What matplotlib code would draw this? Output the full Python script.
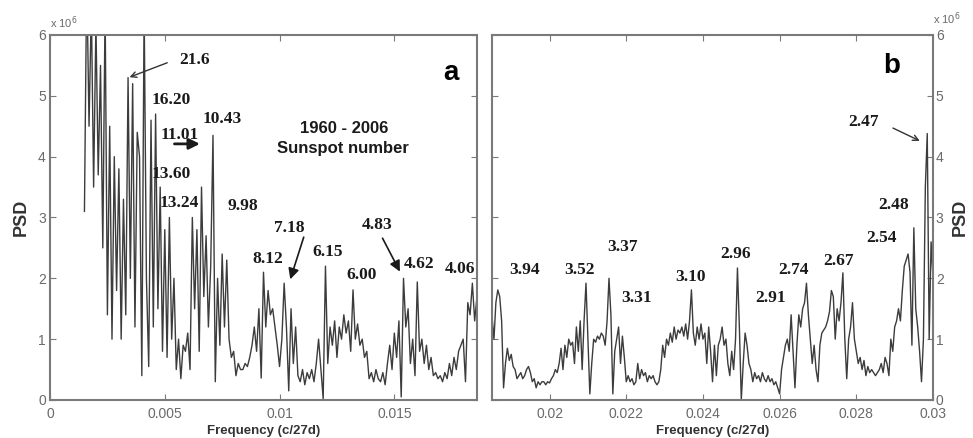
import numpy as np
import matplotlib
matplotlib.use("Agg")
import matplotlib.pyplot as plt

# PSD (x 10^6), uniform frequency grids (c/27d)
f0_a = 0.0015
df_a = 0.0001
psd_a = [3.1, 7.0, 4.5, 6.5, 3.5, 6.2, 3.7, 5.5, 2.5, 6.5,
         1.4, 4.5, 1.0, 4.0, 1.8, 3.8, 1.0, 3.3, 1.4, 5.3,
         2.0, 5.2, 1.2, 4.4, 4.0, 0.4, 6.5, 2.0, 0.55, 4.6,
         1.2, 4.7, 1.5, 3.5, 0.8, 2.8, 0.7, 3.0, 1.0, 2.0,
         0.5, 1.0, 0.35, 0.9, 0.8, 1.1, 0.5, 3.0, 1.5, 2.8,
         0.8, 3.5, 1.7, 2.7, 1.2, 2.2, 4.35, 0.3, 2.0, 0.9,
         2.4, 1.2, 2.3, 1.0, 0.7, 0.8, 0.4, 0.6, 0.5, 0.5,
         0.6, 0.55, 0.7, 0.9, 1.2, 0.8, 1.5, 0.36, 2.1, 1.2,
         1.8, 1.4, 1.5, 1.2, 0.9, 0.55, 1.0, 1.92, 1.2, 0.15,
         1.5, 0.6, 1.2, 0.4, 0.3, 0.5, 0.25, 0.45, 0.35, 0.5,
         0.3, 0.6, 1.0, 0.5, 0.02, 2.2, 0.6, 1.2, 0.9, 1.3,
         0.7, 1.2, 1.0, 1.4, 1.1, 1.3, 0.8, 1.81, 1.0, 1.25,
         0.9, 1.0, 0.7, 0.8, 0.35, 0.45, 0.3, 0.5, 0.35, 0.3,
         0.45, 0.25, 0.6, 0.9, 0.5, 1.1, 0.7, 1.3, 0.05, 2.0,
         1.2, 1.5, 0.6, 1.0, 0.4, 1.94, 0.8, 1.0, 0.6, 0.9,
         0.5, 0.7, 0.4, 0.45, 0.35, 0.4, 0.3, 0.45, 0.35, 0.6,
         0.4, 0.7, 0.5, 0.8, 0.9, 1.0, 0.3, 1.6, 1.4, 1.92,
         1.3, 1.7]

f0_b = 0.0185
df_b = 0.00005
psd_b = [1.37, 1.0, 1.6, 1.81, 1.7, 1.3, 0.2, 0.6, 0.85, 0.65,
         0.75, 0.55, 0.5, 0.35, 0.4, 0.45, 0.35, 0.4, 0.5, 0.55,
         0.45, 0.3, 0.35, 0.2, 0.3, 0.25, 0.3, 0.3, 0.25, 0.3,
         0.28, 0.35, 0.4, 0.5, 0.45, 0.6, 0.85, 0.5, 0.9, 0.7,
         1.0, 0.9, 0.95, 0.6, 1.2, 0.8, 1.3, 0.5, 1.3, 1.92,
         1.0, 0.1, 0.6, 1.0, 0.95, 1.05, 1.0, 1.1, 1.05, 0.9,
         1.3, 2.0, 1.4, 0.1, 0.8, 1.0, 1.2, 0.6, 1.05, 0.7,
         0.3, 0.4, 0.3, 0.35, 0.25, 0.3, 0.6, 0.35, 0.5, 0.4,
         0.45, 0.3, 0.4, 0.35, 0.4, 0.3, 0.25, 0.3, 0.5, 0.9,
         0.7, 1.0, 0.9, 1.1, 0.95, 1.2, 1.0, 1.15, 1.1, 1.2,
         1.05, 1.25, 1.0, 1.3, 1.81, 1.1, 0.9, 1.2, 1.0, 1.25,
         1.0, 1.1, 0.6, 1.2, 0.8, 0.3, 0.9, 0.4, 0.9, 1.0,
         1.2, 0.9, 1.0, 0.6, 0.4, 0.8, 0.5, 1.0, 2.17, 1.2,
         0.0, 0.6, 1.1, 0.9, 0.6, 0.5, 0.3, 0.45, 0.35, 0.4,
         0.3, 0.45, 0.35, 0.3, 0.4, 0.3, 0.35, 0.25, 0.3, 0.2,
         0.1, 0.5, 0.7, 0.9, 1.0, 0.8, 1.4, 0.8, 0.2, 0.9,
         1.4, 1.2, 1.5, 1.6, 1.92, 1.4, 1.0, 0.6, 0.9, 0.5,
         0.3, 0.9, 1.1, 1.15, 1.2, 1.3, 1.45, 1.8, 1.7, 1.0,
         1.5, 1.3, 1.6, 2.09, 1.0, 0.35, 1.0, 1.2, 1.6, 1.0,
         0.8, 0.6, 0.7, 0.5, 0.65, 0.4, 0.55, 0.45, 0.5, 0.45,
         0.4, 0.45, 0.5, 0.6, 0.45, 0.7, 0.6, 0.4, 1.0, 0.8,
         1.2, 1.3, 1.5, 1.3, 1.8, 2.2, 2.3, 2.4, 2.1, 0.9,
         2.83, 1.5, 1.2, 0.8, 0.3, 1.0, 3.5, 4.38, 1.0, 2.6,
         2.0]

xt_a = [0, 0.005, 0.01, 0.015]
xtl_a = ['0', '0.005', '0.01', '0.015']
xt_b = [0.02, 0.022, 0.024, 0.026, 0.028, 0.03]
xtl_b = ['0.02', '0.022', '0.024', '0.026', '0.028', '0.03']
yt = [0, 1, 2, 3, 4, 5, 6]

# period labels (years) placed next to peaks
labels_a = [('21.6', 0.00630, 5.59), ('16.20', 0.00530, 4.93), ('10.43', 0.00748, 4.62),
            ('11.01', 0.00565, 4.36), ('13.60', 0.00526, 3.72), ('13.24', 0.00565, 3.24),
            ('9.98', 0.00839, 3.19), ('7.18', 0.01043, 2.83), ('8.12', 0.00948, 2.32),
            ('6.15', 0.01209, 2.43), ('6.00', 0.01357, 2.05), ('4.83', 0.01426, 2.88),
            ('4.62', 0.01609, 2.24), ('4.06', 0.01787, 2.15)]
labels_b = [('2.47', 0.02819, 4.57), ('2.48', 0.02897, 3.21), ('2.54', 0.02865, 2.66),
            ('2.67', 0.02754, 2.29), ('2.74', 0.02637, 2.14), ('2.91', 0.02577, 1.68),
            ('2.96', 0.02486, 2.40), ('3.10', 0.02367, 2.02), ('3.31', 0.02227, 1.68),
            ('3.37', 0.02190, 2.52), ('3.52', 0.02079, 2.14), ('3.94', 0.01936, 2.14)]

fa = f0_a + df_a * np.arange(len(psd_a))
fb = f0_b + df_b * np.arange(len(psd_b))

grey = '#7a7a7a'
tickc = '#6a6a6a'
ink = '#1a1a1a'
lab_font = dict(family='Liberation Serif', weight='bold', fontsize=12.5, color=ink,
                ha='center', va='center')

fig = plt.figure(figsize=(9.73, 4.38), dpi=100)
ax1 = fig.add_axes([0.0514, 0.0868, 0.4388, 0.8333])
ax2 = fig.add_axes([0.5057, 0.0868, 0.4532, 0.8333])

for ax in (ax1, ax2):
    for s in ax.spines.values():
        s.set_color(grey)
        s.set_linewidth(1.5)
    ax.set_ylim(0, 6)
    ax.set_yticks(yt)
    ax.tick_params(direction='in', top=True, right=True, left=True, length=4,
                   color=grey, labelcolor=tickc, labelsize=10, pad=3)
    ax.tick_params(axis='x', pad=5)
    ax.set_xlabel('Frequency (c/27d)', family='Liberation Sans', weight='bold',
                  fontsize=9.5, color='#333333', labelpad=3)

ax1.plot(fa, psd_a, color='#3c3c3c', lw=1.0)
ax1.set_xlim(0, 0.0186)
ax1.set_xticks(xt_a)
ax1.set_xticklabels(xtl_a, family='Liberation Sans')
ax1.set_yticklabels([str(v) for v in yt], family='Liberation Sans')
ax1.set_ylabel('PSD', family='Liberation Sans', weight='bold', fontsize=13,
               color='#333333', labelpad=6)
ax1.text(0.0, 1.02, r'x 10$^6$', transform=ax1.transAxes, fontsize=8,
         color=tickc, family='Liberation Sans')

ax2.plot(fb, psd_b, color='#3c3c3c', lw=1.0)
ax2.set_xlim(0.0185, 0.03)
ax2.set_xticks(xt_b)
ax2.set_xticklabels(xtl_b, family='Liberation Sans')
ax2.yaxis.tick_right()
ax2.tick_params(axis='y', left=True, right=True, labelleft=False, labelright=True, pad=2)
ax2.set_yticklabels([str(v) for v in yt], family='Liberation Sans')
ax2.yaxis.set_label_position('right')
ax2.set_ylabel('PSD', family='Liberation Sans', weight='bold', fontsize=13,
               color='#333333', labelpad=6, rotation=90)
ax2.text(1.0, 1.03, r'x 10$^6$', transform=ax2.transAxes, fontsize=8,
         color=tickc, family='Liberation Sans')

for txt, x, y in labels_a:
    ax1.text(x, y, txt, **lab_font)
for txt, x, y in labels_b:
    ax2.text(x, y, txt, **lab_font)

arrow = dict(arrowstyle='-|>', color=ink, lw=1.0, mutation_scale=12)
ax1.annotate('', xy=(0.00335, 5.29), xytext=(0.00522, 5.56), arrowprops=dict(arrowstyle='->', color='#333333', lw=1.0))
ax1.annotate('', xy=(0.00665, 4.21), xytext=(0.0053, 4.21), arrowprops=dict(arrow, mutation_scale=16, lw=2))
ax1.annotate('', xy=(0.01043, 1.94), xytext=(0.01109, 2.72), arrowprops=dict(arrow, mutation_scale=16, lw=1.2))
ax1.annotate('', xy=(0.0153, 2.07), xytext=(0.01443, 2.70), arrowprops=dict(arrow, mutation_scale=16, lw=1.2))
ax2.annotate('', xy=(0.02972, 4.24), xytext=(0.02889, 4.49), arrowprops=dict(arrowstyle='->', color='#333333', lw=1.0))

ax1.text(0.01283, 4.47, '1960 - 2006', family='Liberation Sans', weight='bold',
         fontsize=12, color=ink, ha='center', va='center')
ax1.text(0.01274, 4.13, 'Sunspot number', family='Liberation Sans', weight='bold',
         fontsize=12, color=ink, ha='center', va='center')
ax1.text(0.01748, 5.38, 'a', family='Liberation Sans', weight='bold',
         fontsize=20, color='black', ha='center', va='center')
ax2.text(0.02891, 5.49, 'b', family='Liberation Sans', weight='bold',
         fontsize=20, color='black', ha='center', va='center')

fig.savefig('out.png', dpi=100)
